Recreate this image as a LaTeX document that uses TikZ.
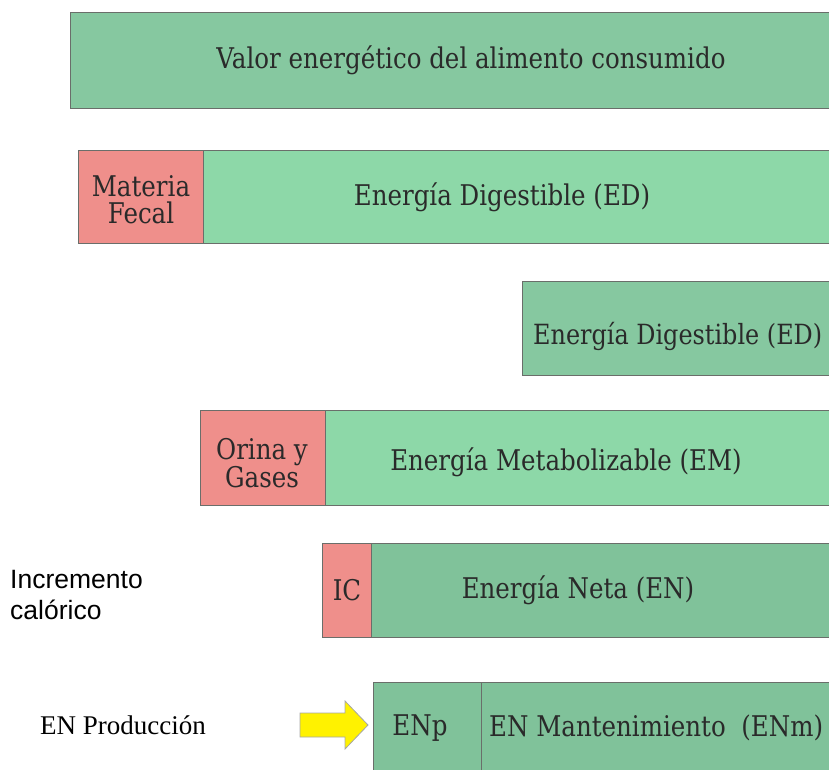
\documentclass[tikz,border=0pt]{standalone}
\usepackage{fontspec}
\setmainfont{Liberation Serif}
\setsansfont{Liberation Sans}
\newfontfamily\slab[FakeStretch=0.86]{DejaVu Serif}
\usetikzlibrary{positioning}
\definecolor{gA}{HTML}{86C8A0}
\definecolor{gB}{HTML}{8DD8A8}
\definecolor{gC}{HTML}{80C29A}
\definecolor{rd}{HTML}{EF8F8B}
\definecolor{edge}{HTML}{6A6E6A}
\definecolor{txt}{HTML}{2A2A2A}
\begin{document}
\begin{tikzpicture}[x=1pt,y=-1pt,
  box/.style={draw=edge,line width=0.9pt,inner sep=0pt},
  lab/.style={text=txt,font=\slab\fontsize{28.5}{27}\selectfont,inner sep=0pt,align=center},
  side/.style={text=black,inner sep=0pt,align=left}]
\useasboundingbox (0,0) rectangle (829,769);
% bar 1
\node[box,fill=gA,minimum width=790pt,minimum height=96pt,anchor=north west] (b1) at (70,12) {};
\node[lab] (t1) at (471,60) {Valor energético del alimento consumido};
% bar 2
\node[box,fill=rd,minimum width=125pt,minimum height=93pt,anchor=north west] (r2) at (78,150) {};
\node[box,fill=gB,minimum width=660pt,minimum height=93pt,anchor=north west] (b2) at (203,150) {};
\node[lab] (t2a) at (141,200) {Materia\\Fecal};
\node[lab] (t2) at (502,197) {Energía Digestible (ED)};
% bar 3
\node[box,fill=gA,minimum width=340pt,minimum height=94pt,anchor=north west] (b3) at (522,281) {};
\node[lab,anchor=west,font=\slab\fontsize{27.8}{30}\selectfont] (t3) at (533,336) {Energía Digestible (ED)};
% bar 4
\node[box,fill=rd,minimum width=125pt,minimum height=95pt,anchor=north west] (r4) at (200,410) {};
\node[box,fill=gB,minimum width=540pt,minimum height=95pt,anchor=north west] (b4) at (325,410) {};
\node[lab] (t4a) at (262,463) {Orina y\\Gases};
\node[lab] (t4) at (566,462) {Energía Metabolizable (EM)};
% bar 5
\node[box,fill=rd,minimum width=49pt,minimum height=94pt,anchor=north west] (r5) at (322,543) {};
\node[box,fill=gC,minimum width=500pt,minimum height=94pt,anchor=north west] (b5) at (371,543) {};
\node[lab] (t5a) at (347,590) {IC};
\node[lab] (t5) at (578,590) {Energía Neta (EN)};
\node[side,font=\sffamily\fontsize{26.5}{31}\selectfont,anchor=west] (inc) at (10,595) {Incremento\\calórico};
% bar 6
\node[box,fill=gC,minimum width=108pt,minimum height=100pt,anchor=north west] (p6) at (373,682) {};
\node[box,fill=gC,minimum width=400pt,minimum height=100pt,anchor=north west] (b6) at (481,682) {};
\node[lab] (t6a) at (420,728) {ENp};
\node[lab,anchor=west] (t6) at (489,728) {EN Mantenimiento\ \ (ENm)};
\node[side,font=\rmfamily\fontsize{27}{30}\selectfont,anchor=west] (prod) at (40,725) {EN Producción};
% yellow arrow
\coordinate (ar) at (300,725);
\draw[draw=gray!70,fill=yellow,line width=0.8pt] (ar) ++(0,-12) -- ++(45,0) -- ++(0,-12) -- ++(23,24) -- ++(-23,24) -- ++(0,-12) -- ++(-45,0) -- cycle;
\end{tikzpicture}
\end{document}
